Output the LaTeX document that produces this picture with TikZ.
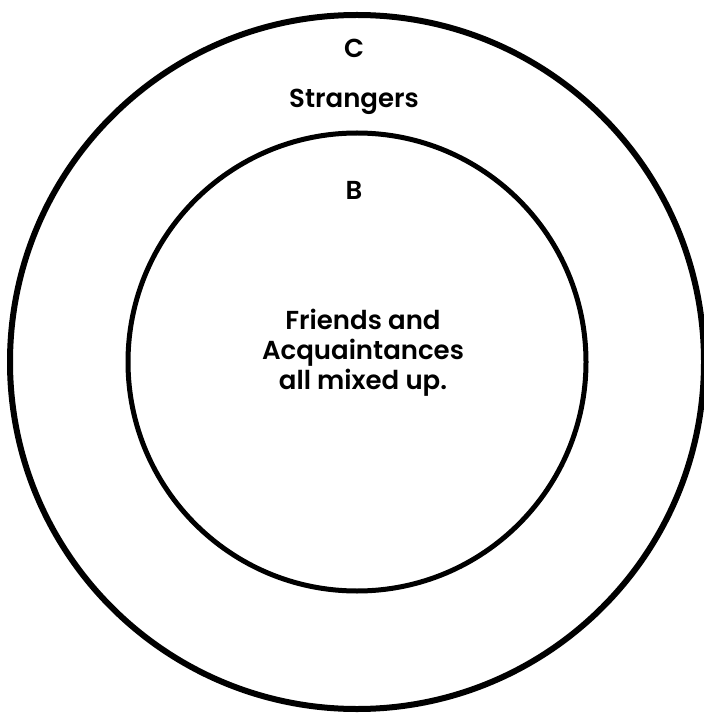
\documentclass[tikz,border=0pt]{standalone}
\usepackage{fontspec}
\setmainfont{Poppins}[UprightFont={* SemiBold}]
\usepackage{tikz}
\usetikzlibrary{positioning}

\begin{document}
\begin{tikzpicture}[x=0.5pt,y=-0.5pt, ring/.style={circle, draw, inner sep=0pt}, lbl/.style={font=\fontsize{13}{15}\selectfont}]
      \useasboundingbox (0,0) rectangle (703,716);
      \node[ring, line width=3pt, minimum size=347pt] (outer) at (357,362) {};
      \node[ring, line width=2.5pt, minimum size=229pt] (inner) at (357,362) {};

      \node[lbl] (c) at (354,48) {C};
      \node[lbl] (strangers) [below=9pt of c] {Strangers};
      \node[lbl] (b) at (354,190) {B};
      \node[lbl, align=center] (friends) at (363,353) {Friends and\\Acquaintances\\all mixed up.};
    \end{tikzpicture}
\end{document}
